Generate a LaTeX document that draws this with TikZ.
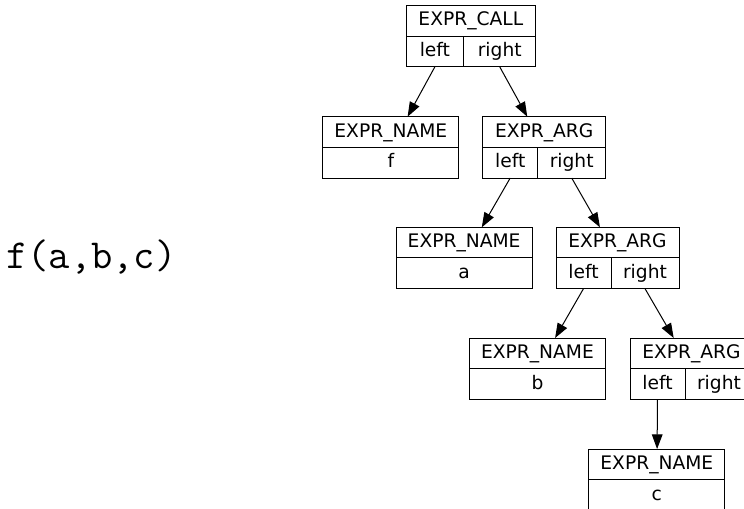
\documentclass[tikz,border=0pt]{standalone}
\usepackage{fontspec}
\setmainfont{DejaVu Sans}
\usepackage{xcolor}
\usepackage{tikz}
\usetikzlibrary{arrows.meta,positioning,fit}
\definecolor{inkblack}{HTML}{000000}

\begin{document}
\begin{tikzpicture}[
    x=0.75pt, y=-0.75pt,
    cell/.style={rectangle, draw=inkblack, line width=0.75pt, inner sep=0pt, outer sep=0pt, minimum height=23pt, text height=10.5pt, text depth=3pt, font=\fontsize{14}{16}\selectfont},
    record/.style={rectangle, inner sep=0pt, outer sep=0pt},
    edge/.style={-{Triangle[length=11pt, width=8pt]}, line width=0.75pt, inkblack}
]
\useasboundingbox (0,0) rectangle (744,508);

% Source expression
\node[font=\ttfamily\fontsize{31}{36}\selectfont, anchor=base west, inner sep=0pt] (src) at (6,268) {f(a,b,c)};

% Root: EXPR_CALL
\node[cell, minimum width=97.3pt, anchor=north west] (callhdr) at (406,5.5) {EXPR\_CALL};
\node[cell, minimum width=43.3pt, below right=0pt of callhdr.south west] (callleft) {left};
\node[cell, minimum width=54pt, right=0pt of callleft] (callright) {right};

% Level 1
\node[cell, minimum width=102.2pt, anchor=north west] (fhdr) at (322.7,116.7) {EXPR\_NAME};
\node[cell, minimum width=102.2pt, below right=0pt of fhdr.south west] (fval) {f};
\node[record, fit=(fhdr)(fval)] (fname) {};

\node[cell, minimum width=92.25pt, anchor=north west] (arg1hdr) at (482.7,116.7) {EXPR\_ARG};
\node[cell, minimum width=41.25pt, below right=0pt of arg1hdr.south west] (arg1left) {left};
\node[cell, minimum width=51pt, right=0pt of arg1left] (arg1right) {right};
\node[record, fit=(arg1hdr)(arg1left)(arg1right)] (arg1) {};

% Level 2
\node[cell, minimum width=102.2pt, anchor=north west] (ahdr) at (396,227.3) {EXPR\_NAME};
\node[cell, minimum width=102.2pt, below right=0pt of ahdr.south west] (aval) {a};
\node[record, fit=(ahdr)(aval)] (aname) {};

\node[cell, minimum width=92.25pt, anchor=north west] (arg2hdr) at (556,227.3) {EXPR\_ARG};
\node[cell, minimum width=41.25pt, below right=0pt of arg2hdr.south west] (arg2left) {left};
\node[cell, minimum width=51pt, right=0pt of arg2left] (arg2right) {right};
\node[record, fit=(arg2hdr)(arg2left)(arg2right)] (arg2) {};

% Level 3
\node[cell, minimum width=102.2pt, anchor=north west] (bhdr) at (469.3,338) {EXPR\_NAME};
\node[cell, minimum width=102.2pt, below right=0pt of bhdr.south west] (bval) {b};
\node[record, fit=(bhdr)(bval)] (bname) {};

\node[cell, minimum width=92.25pt, anchor=north west] (arg3hdr) at (630,338) {EXPR\_ARG};
\node[cell, minimum width=41.25pt, below right=0pt of arg3hdr.south west] (arg3left) {left};
\node[cell, minimum width=51pt, right=0pt of arg3left] (arg3right) {right};
\node[record, fit=(arg3hdr)(arg3left)(arg3right)] (arg3) {};

% Level 4
\node[cell, minimum width=102.2pt, anchor=north west] (chdr) at (588.7,449) {EXPR\_NAME};
\node[cell, minimum width=102.2pt, below right=0pt of chdr.south west] (cval) {c};
\node[record, fit=(chdr)(cval)] (cname) {};

\draw[edge] (callleft.south) -- (fname);
\draw[edge] (callright.south) -- (arg1);
\draw[edge] (arg1left.south) -- (aname);
\draw[edge] (arg1right.south) -- (arg2);
\draw[edge] (arg2left.south) -- (bname);
\draw[edge] (arg2right.south) -- (arg3);
\draw[edge] (arg3left.south) -- (cname);

\end{tikzpicture}
\end{document}
